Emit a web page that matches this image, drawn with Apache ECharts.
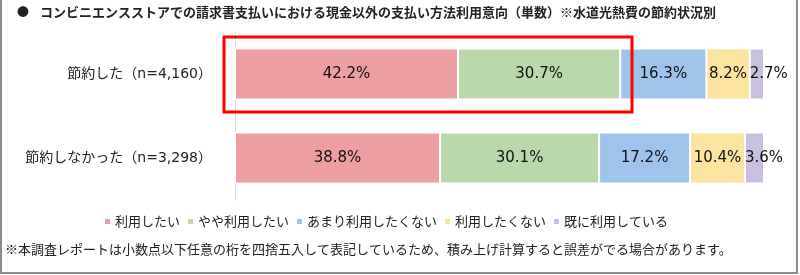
<!DOCTYPE html>
<html><head><meta charset="utf-8">
<script src="https://cdn.jsdelivr.net/npm/echarts@6/dist/echarts.min.js"></script>
<style>html,body{margin:0;padding:0;background:#fff}#c{width:800px;height:275px}</style>
</head><body><div id="c"></div>
<script>
const titleText = 'コンビニエンスストアでの請求書支払いにおける現金以外の支払い方法利用意向（単数）※水道光熱費の節約状況別';
const footnote = '※本調査レポートは小数点以下任意の桁を四捨五入して表記しているため、積み上げ計算すると誤差がでる場合があります。';
const categories = ['節約した（n=4,160）', '節約しなかった（n=3,298）'];
const seriesNames = ['利用したい', 'やや利用したい', 'あまり利用したくない', '利用したくない', '既に利用している'];
const v1 = [42.2, 38.8];
const v2 = [30.7, 30.1];
const v3 = [16.3, 17.2];
const v4 = [8.2, 10.4];
const v5 = [2.7, 3.6];
const values = [v1, v2, v3, v4, v5];
const colors = ['#EC9EA0', '#B9D9AA', '#9FC4EB', '#FBE3A0', '#C9BFDE'];

const chart = echarts.init(document.getElementById('c'), null, {renderer: 'canvas'});
const latin = '"DejaVu Sans", "Noto Sans CJK JP", sans-serif';
const cjk = '"Noto Sans CJK JP", sans-serif';
chart.setOption({
  animation: false,
  backgroundColor: '#fff',
  grid: {left: 235, right: 36, top: 32, bottom: 75, containLabel: false},
  xAxis: {type: 'value', min: 0, max: 100.1, show: false},
  yAxis: {
    type: 'category', data: categories, inverse: true,
    axisLine: {show: true, lineStyle: {color: '#d9d9d9', width: 1}},
    axisTick: {show: false},
    axisLabel: {fontSize: 14, color: '#222', margin: 23, fontFamily: latin}
  },
  legend: {
    data: seriesNames, left: 98, top: 210, itemWidth: 7, itemHeight: 7, itemGap: 6,
    icon: 'rect',
    textStyle: {fontSize: 13, color: '#222', fontFamily: cjk, padding: [0, 0, 0, -1]}
  },
  series: seriesNames.map((n, i) => ({
    name: n, type: 'bar', stack: 'all', barWidth: 51,
    data: values[i],
    itemStyle: {color: colors[i], borderColor: '#fff', borderWidth: 1},
    label: {
      show: true,
      position: i === 4 ? 'insideLeft' : 'inside',
      distance: 0,
      formatter: p => p.value.toFixed(1) + '%',
      fontSize: 15, color: '#111', fontFamily: latin
    }
  })),
  graphic: [
    {type: 'rect', shape: {x: 1, y: -5, width: 796, height: 278}, style: {fill: 'none', stroke: '#8c8c8c', lineWidth: 2}, silent: true},
    {type: 'text', left: 17, top: 6, style: {text: '●', fontSize: 12, fill: '#222', fontFamily: cjk}},
    {type: 'text', left: 40, top: 6, style: {text: titleText, fontSize: 13, fontWeight: 'bold', fill: '#222', fontFamily: cjk}},
    {type: 'text', left: 5, top: 243, style: {text: footnote, fontSize: 13, fill: '#222', fontFamily: cjk}},
    {type: 'rect', shape: {x: 224, y: 37, width: 408, height: 75}, style: {fill: 'none', stroke: '#ff0000', lineWidth: 3}, silent: true, z: 100}
  ]
});
</script>
</body></html>
